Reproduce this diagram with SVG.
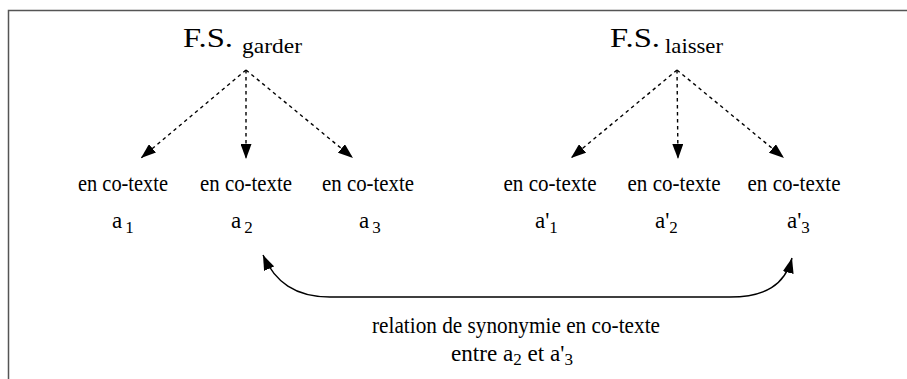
<svg xmlns="http://www.w3.org/2000/svg" width="907" height="379" viewBox="0 0 907 379">
<style>
.t{font-family:'Liberation Serif','DejaVu Serif','Times New Roman',serif;fill:#000}
.fs{font-size:27px}
.sub{font-size:22px}
.lbl{font-size:23px;text-anchor:middle}
.a{font-size:23px}
.s{font-size:17px}
.dash{fill:none;stroke:#000;stroke-width:1.4;stroke-dasharray:3.5 3.5}
.solid{fill:none;stroke:#000;stroke-width:1.4}
.frame{fill:none;stroke:#555;stroke-width:1.5}
</style>
<defs>
<marker id="ah" viewBox="0 0 15 11" refX="15" refY="5.5" markerWidth="15" markerHeight="11" markerUnits="userSpaceOnUse" orient="auto-start-reverse">
<path d="M0,0 L15,5.5 L0,11 z" fill="#000"/>
</marker>
</defs>
<path class="frame" d="M8.5,379 V10.5 H907"/>
<g class="t" font-family="Liberation Serif, DejaVu Serif, serif">
<g id="fs-garder">
<text x="183" y="47" class="fs" textLength="50" lengthAdjust="spacingAndGlyphs">F.S.</text>
<text x="242" y="53" class="sub" textLength="60" lengthAdjust="spacingAndGlyphs">garder</text>
</g>
<g id="fs-laisser">
<text x="610" y="47" class="fs" textLength="50" lengthAdjust="spacingAndGlyphs">F.S.</text>
<text x="665" y="53" class="sub" textLength="58" lengthAdjust="spacingAndGlyphs">laisser</text>
</g>
<g id="n-a1"><text x="123" y="191" class="lbl" textLength="90" lengthAdjust="spacingAndGlyphs">en co-texte</text><text x="112" y="228" class="a">a<tspan dx="3" dy="5" class="s">1</tspan></text></g>
<g id="n-a2"><text x="246" y="191" class="lbl" textLength="92" lengthAdjust="spacingAndGlyphs">en co-texte</text><text x="231" y="228" class="a">a<tspan dx="3" dy="5" class="s">2</tspan></text></g>
<g id="n-a3"><text x="368" y="191" class="lbl" textLength="92" lengthAdjust="spacingAndGlyphs">en co-texte</text><text x="359" y="228" class="a">a<tspan dx="3" dy="5" class="s">3</tspan></text></g>
<g id="n-ap1"><text x="550" y="191" class="lbl" textLength="93" lengthAdjust="spacingAndGlyphs">en co-texte</text><text x="535" y="228" class="a">a'<tspan dy="5" class="s">1</tspan></text></g>
<g id="n-ap2"><text x="674" y="191" class="lbl" textLength="93" lengthAdjust="spacingAndGlyphs">en co-texte</text><text x="655" y="228" class="a">a'<tspan dy="5" class="s">2</tspan></text></g>
<g id="n-ap3"><text x="794" y="191" class="lbl" textLength="93" lengthAdjust="spacingAndGlyphs">en co-texte</text><text x="787" y="228" class="a">a'<tspan dy="5" class="s">3</tspan></text></g>
<g id="relation">
<text x="516" y="333" class="lbl" textLength="288" lengthAdjust="spacingAndGlyphs">relation de synonymie en co-texte</text>
<text x="512" y="361" class="lbl" textLength="122" lengthAdjust="spacingAndGlyphs">entre a<tspan dy="4" class="s">2</tspan><tspan dy="-4"> et a'</tspan><tspan dy="4" class="s">3</tspan></text>
</g>
</g>
<g id="connectors">
<path class="dash" d="M246,70 L141,158" marker-end="url(#ah)"/>
<path class="dash" d="M246,70 L246,159" marker-end="url(#ah)"/>
<path class="dash" d="M246,70 L353,158" marker-end="url(#ah)"/>
<path class="dash" d="M677,70 L571,158" marker-end="url(#ah)"/>
<path class="dash" d="M677,70 L678,159" marker-end="url(#ah)"/>
<path class="dash" d="M677,70 L784,158" marker-end="url(#ah)"/>
<path class="solid" d="M263,255 C275,282 295,297 330,297 L730,297 C765,297 785,285 792,258" marker-start="url(#ah)" marker-end="url(#ah)"/>
</g>
</svg>
